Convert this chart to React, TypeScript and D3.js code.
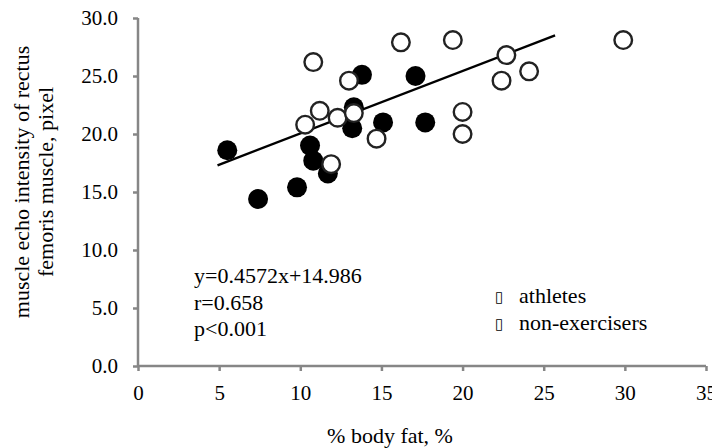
import React, { useEffect, useRef } from 'react';
import * as d3 from 'd3';

// athletes (filled markers)
const athleteFat = [5.5, 7.4, 9.8, 10.6, 10.8, 11.7, 13.8, 13.2, 13.3, 15.1, 17.1, 17.7];
const athleteEcho = [18.6, 14.4, 15.4, 19.0, 17.7, 16.6, 25.1, 20.5, 22.3, 21.0, 25.0, 21.0];

// non-exercisers (open markers)
const nonExFat = [10.8, 13.0, 11.2, 10.3, 12.3, 13.3, 14.7, 16.2, 19.4, 22.7, 22.4, 24.1, 20.0, 20.0, 29.9, 11.9];
const nonExEcho = [26.2, 24.6, 22.0, 20.8, 21.4, 21.8, 19.6, 27.9, 28.1, 26.8, 24.6, 25.4, 21.9, 20.0, 28.1, 17.4];

// regression line as drawn (end points)
const trendFat = [4.9, 25.7];
const trendEcho = [17.3, 28.5];

const xTicks = [0, 5, 10, 15, 20, 25, 30, 35];
const yTicks = [0, 5, 10, 15, 20, 25, 30];
const statLines = ['y=0.4572x+14.986', 'r=0.658', 'p<0.001'];
const legendLabels = ['athletes', 'non-exercisers'];

function App() {
  const svgRef = useRef<SVGSVGElement>(null);

  useEffect(() => {
    const width = 712;
    const height = 448;
    const font = '"Liberation Serif", "Times New Roman", serif';

    const x = d3.scaleLinear().domain([0, 35]).range([138, 706]);
    const y = d3.scaleLinear().domain([0, 30]).range([366, 18]);

    const svg = d3.select(svgRef.current)
      .attr('width', width)
      .attr('height', height);
    svg.selectAll('*').remove();

    const axisColor = '#868686';

    // y axis
    const yAxis = svg.append('g')
      .attr('transform', `translate(${x(0)},0)`)
      .call(d3.axisLeft(y).tickValues(yTicks).tickSize(5).tickPadding(15).tickFormat(d3.format('.1f')));
    // x axis
    const xAxis = svg.append('g')
      .attr('transform', `translate(0,${y(0)})`)
      .call(d3.axisBottom(x).tickValues(xTicks).tickSize(5).tickPadding(14).tickFormat(d3.format('d')));

    [xAxis, yAxis].forEach((ax) => {
      ax.select('.domain').attr('stroke', axisColor).attr('stroke-width', 2.5);
      ax.selectAll('.tick line').attr('stroke', axisColor).attr('stroke-width', 2.5);
      ax.selectAll('.tick text')
        .attr('fill', '#000')
        .style('font-family', font)
        .style('font-size', '21px');
    });
    xAxis.select('.domain').attr('d', `M${x(0)},0H${x(35)}`);
    yAxis.select('.domain').attr('d', `M0,${y(0)}V${y(30)}`);

    // trend line
    const line = d3.line<number>()
      .x((d, i) => x(trendFat[i]))
      .y((d) => y(d));
    svg.append('path')
      .attr('d', line(trendEcho))
      .attr('fill', 'none')
      .attr('stroke', '#000')
      .attr('stroke-width', 2.5);

    // athletes
    svg.append('g')
      .selectAll('circle')
      .data(athleteFat)
      .enter().append('circle')
      .attr('cx', (d) => x(d))
      .attr('cy', (d, i) => y(athleteEcho[i]))
      .attr('r', 10)
      .attr('fill', '#000');

    // non-exercisers
    svg.append('g')
      .selectAll('circle')
      .data(nonExFat)
      .enter().append('circle')
      .attr('cx', (d) => x(d))
      .attr('cy', (d, i) => y(nonExEcho[i]))
      .attr('r', 8.8)
      .attr('fill', '#fff')
      .attr('stroke', '#222')
      .attr('stroke-width', 2.4);

    // statistics
    svg.append('g')
      .selectAll('text')
      .data(statLines)
      .enter().append('text')
      .attr('x', 194)
      .attr('y', (d, i) => 283 + i * 26.5)
      .style('font-family', font)
      .style('font-size', '22px')
      .text((d) => d);

    // legend
    const legend = svg.append('g')
      .selectAll('g')
      .data(legendLabels)
      .enter().append('g')
      .attr('transform', (d, i) => `translate(495,${303 + i * 26.5})`);
    legend.append('text')
      .style('font-family', '"DejaVu Sans", sans-serif')
      .style('font-size', '15px')
      .attr('y', -1)
      .text('\u25AF');
    legend.append('text')
      .attr('x', 24)
      .style('font-family', font)
      .style('font-size', '22px')
      .text((d) => d);

    // axis titles
    svg.append('text')
      .attr('x', 390)
      .attr('y', 443)
      .attr('text-anchor', 'middle')
      .style('font-family', font)
      .style('font-size', '22px')
      .text('% body fat, %');

    const yTitle = svg.append('text')
      .attr('transform', 'translate(0,182) rotate(-90)')
      .attr('text-anchor', 'middle')
      .style('font-family', font)
      .style('font-size', '22px');
    yTitle.append('tspan').attr('x', 0).attr('y', 29).text('muscle echo intensity of rectus');
    yTitle.append('tspan').attr('x', 0).attr('y', 53).text('femoris muscle, pixel');
  }, []);

  return (
    <svg ref={svgRef} style={{ position: 'absolute', left: 0, top: 0, overflow: 'hidden' }}></svg>
  );
}

export default App;
